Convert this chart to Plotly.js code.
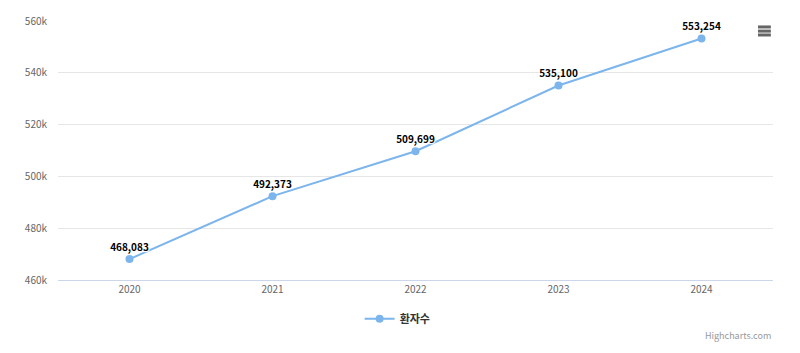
<!DOCTYPE html>
<html>
<head>
<meta charset="utf-8">
<script src="https://cdn.plot.ly/plotly-3.0.1.min.js"></script>
<style>html,body{margin:0;padding:0;background:#fff;}#chart{width:800px;height:353px;}</style>
</head>
<body>
<div id="chart"></div>
<script>
const years = ["2020", "2021", "2022", "2023", "2024"];
const patients = [468083, 492373, 509699, 535100, 553254];
const seriesName = "환자수";
const yTicks = [460000, 480000, 500000, 520000, 540000, 560000];
const yTickText = ["460k", "480k", "500k", "520k", "540k", "560k"];

const FONT = '"Noto Sans CJK KR", "Noto Sans", sans-serif';

const trace = {
  type: "scatter",
  mode: "lines+markers+text",
  x: years,
  y: patients,
  name: seriesName,
  line: {color: "#7cb5ec", width: 2},
  marker: {color: "#7cb5ec", size: 8},
  text: patients.map(v => v.toLocaleString("en-US")),
  textposition: "top center",
  textfont: {family: FONT, size: 10, color: "#000", weight: "bold",
             shadow: "1px 1px 1px #fff, -1px -1px 1px #fff, 1px -1px 1px #fff, -1px 1px 1px #fff"},
  cliponaxis: false,
  hoverinfo: "x+y"
};

const hx0 = 0.979, hx1 = 0.997;
const layout = {
  width: 800, height: 353,
  margin: {l: 58, r: 27, t: 21, b: 73},
  paper_bgcolor: "#fff", plot_bgcolor: "#fff",
  font: {family: FONT, size: 11, color: "#666"},
  showlegend: true,
  legend: {orientation: "h", x: 0.475, xanchor: "center", y: -0.15, yanchor: "middle",
           font: {family: FONT, size: 11, color: "#333", weight: "bold"}},
  xaxis: {type: "category", range: [-0.5, 4.5], showgrid: false, zeroline: false,
          showline: true, linecolor: "#ccd6eb", linewidth: 1,
          ticks: "", tickfont: {size: 10, color: "#666"}},
  yaxis: {range: [460000, 560000], tickvals: yTicks, ticktext: yTickText,
          showgrid: true, gridcolor: "#e6e6e6", zeroline: false, showline: false,
          ticks: "", ticklen: 0, ticklabelstandoff: 10, tickfont: {size: 10, color: "#666"}},
  shapes: [0.977, 0.961, 0.946].map(y => ({type: "line", xref: "paper", yref: "paper",
          x0: hx0, x1: hx1, y0: y, y1: y, line: {color: "#666", width: 3}})),
  annotations: [{xref: "paper", yref: "paper", x: 1, y: -0.216, xanchor: "right", yanchor: "middle",
                 text: "Highcharts.com", showarrow: false, font: {size: 9, color: "#999"}}]
};

Plotly.newPlot("chart", [trace], layout, {displayModeBar: false, responsive: false});
</script>
</body>
</html>
